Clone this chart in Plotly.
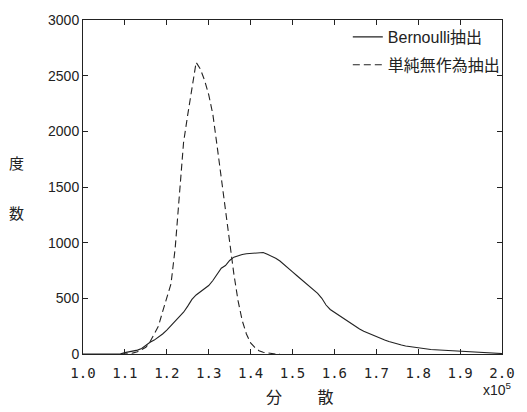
import plotly.graph_objects as go

x_solid = [1.00, 1.01, 1.02, 1.03, 1.04, 1.05, 1.06, 1.07, 1.08, 1.09,
           1.10, 1.11, 1.12, 1.13, 1.14, 1.15, 1.16, 1.17, 1.18, 1.19,
           1.20, 1.21, 1.22, 1.23, 1.24, 1.25, 1.26, 1.27, 1.28, 1.29,
           1.30, 1.31, 1.32, 1.33, 1.34, 1.35, 1.36, 1.37, 1.38, 1.39,
           1.40, 1.41, 1.42, 1.43, 1.44, 1.45, 1.46, 1.47, 1.48, 1.49,
           1.50, 1.51, 1.52, 1.53, 1.54, 1.55, 1.56, 1.57, 1.58, 1.59,
           1.60, 1.61, 1.62, 1.63, 1.64, 1.65, 1.66, 1.67, 1.68, 1.69,
           1.70, 1.71, 1.72, 1.73, 1.74, 1.75, 1.76, 1.77, 1.78, 1.79,
           1.80, 1.81, 1.82, 1.83, 1.84, 1.85, 1.86, 1.87, 1.88, 1.89,
           1.90, 1.91, 1.92, 1.93, 1.94, 1.95, 1.96, 1.97, 1.98, 1.99, 2.00]
bernoulli = [0, 0, 0, 0, 0, 0, 0, 0, 0, 2,
             12, 18, 25, 35, 50, 80, 105, 125, 150, 180,
             215, 255, 295, 335, 375, 430, 490, 530, 560, 590,
             615, 660, 720, 770, 795, 840, 870, 885, 893, 900,
             903, 908, 915, 912, 895, 878, 860, 835, 805, 775,
             738, 705, 672, 638, 610, 580, 545, 500, 440, 400,
             375, 350, 325, 300, 270, 245, 225, 205, 188, 170,
             155, 140, 125, 112, 100, 90, 80, 72, 66, 60,
             52, 46, 42, 40, 38, 36, 34, 32, 30, 28,
             26, 22, 20, 18, 16, 14, 12, 10, 8, 6, 4]

x_dash = [1.09, 1.10, 1.11, 1.12, 1.13, 1.14, 1.15, 1.16, 1.17, 1.18, 1.19,
          1.20, 1.21, 1.22, 1.23, 1.24, 1.25, 1.26, 1.27, 1.28, 1.29,
          1.30, 1.31, 1.32, 1.33, 1.34, 1.35, 1.36, 1.37, 1.38, 1.39,
          1.40, 1.41, 1.42, 1.43, 1.44, 1.45, 1.46, 1.47]
srs = [0, 0, 3, 10, 20, 40, 60, 110, 180, 250, 380,
       500, 630, 950, 1420, 1900, 2150, 2380, 2620, 2560, 2460,
       2330, 2150, 1870, 1580, 1280, 1030, 720, 480, 300, 180,
       100, 60, 30, 15, 8, 3, 0, 0]

x_ticks = [1.0, 1.1, 1.2, 1.3, 1.4, 1.5, 1.6, 1.7, 1.8, 1.9, 2.0]
x_labels = ["1.0", "1.1", "1.2", "1.3", "1.4", "1.5", "1.6", "1.7", "1.8", "1.9", "2.0"]
y_ticks = [0, 500, 1000, 1500, 2000, 2500, 3000]

ink = "#222222"
fig = go.Figure()
fig.add_trace(go.Scatter(x=x_solid, y=bernoulli, mode="lines", name="Bernoulli抽出",
                         line=dict(color=ink, width=1.1), legendgroup="a"))
fig.add_trace(go.Scatter(x=x_dash, y=srs, mode="lines", name="単純無作為抽出",
                         line=dict(color=ink, width=1.1, dash="7px,4px"), legendgroup="b"))

axis_common = dict(showgrid=False, zeroline=False, showline=True, linecolor=ink,
                   linewidth=1, mirror="ticks", ticks="inside", ticklen=5,
                   tickcolor=ink, tickwidth=1)
fig.update_xaxes(range=[1.0, 2.0], tickvals=x_ticks, ticktext=x_labels,
                 ticklabelstandoff=6,
                 tickfont=dict(family="DejaVu Sans Mono", size=14, color=ink),
                 **axis_common)
fig.update_yaxes(range=[0, 3000], tickvals=y_ticks,
                 tickfont=dict(family="Liberation Sans", size=14, color=ink),
                 **axis_common)

W = 527 - 83 - 15
H = 412 - 14 - 58

fig.update_layout(
    width=527, height=412,
    margin=dict(l=83, r=15, t=14, b=58),
    paper_bgcolor="white", plot_bgcolor="white",
    font=dict(family="Liberation Sans, Noto Sans CJK JP", color=ink),
    showlegend=True,
    legend=dict(x=0.632, y=1.0, xanchor="left", yanchor="top",
                bgcolor="rgba(0,0,0,0)", borderwidth=0, tracegroupgap=4,
                font=dict(family="Liberation Sans, Noto Sans CJK JP", size=16, color=ink)),
    annotations=[
        dict(text="分　　 散", x=(305 - 83) / W, xref="paper", y=(354 - 382) / H, yref="paper",
             xanchor="center", yanchor="top", showarrow=False,
             font=dict(family="Noto Sans CJK JP", size=16, color=ink)),
        dict(text="x10<sup>5</sup>", x=(524 - 83) / W, xref="paper", y=(354 - 378) / H, yref="paper",
             xanchor="right", yanchor="top", showarrow=False,
             font=dict(family="Liberation Sans", size=14, color=ink)),
        dict(text="度", x=(15 - 83) / W, xref="paper", y=(354 - 159) / H, yref="paper",
             xanchor="center", yanchor="middle", showarrow=False,
             font=dict(family="Noto Sans CJK JP", size=15, color=ink)),
        dict(text="数", x=(15 - 83) / W, xref="paper", y=(354 - 210) / H, yref="paper",
             xanchor="center", yanchor="middle", showarrow=False,
             font=dict(family="Noto Sans CJK JP", size=15, color=ink)),
    ],
)

fig.write_html("out.html")
